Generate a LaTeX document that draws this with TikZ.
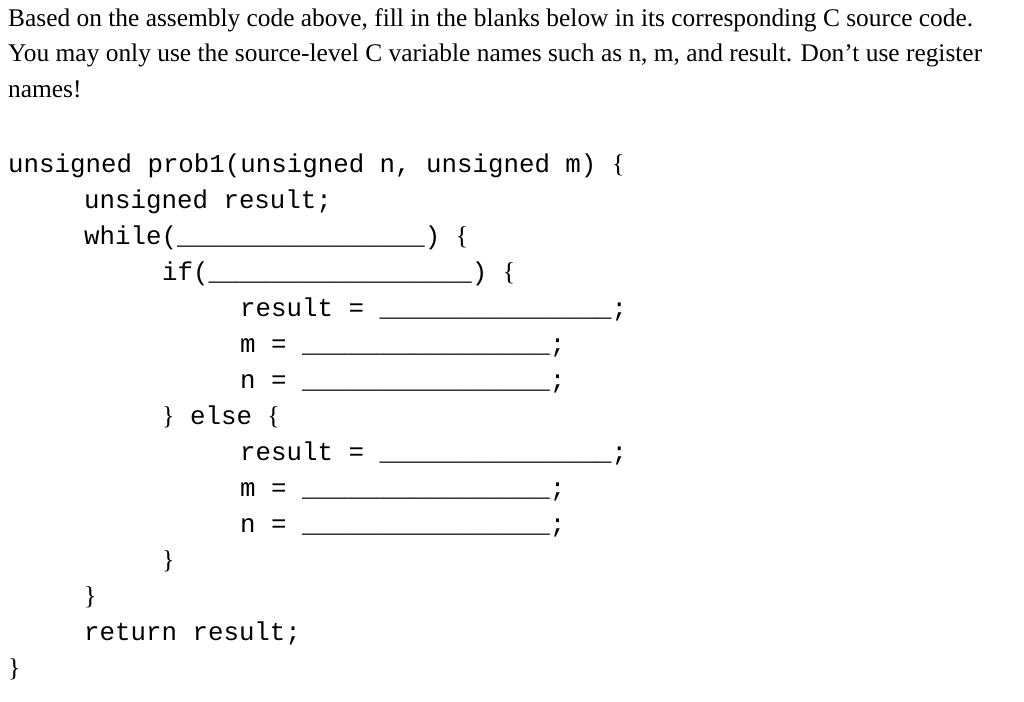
\documentclass[tikz,border=0pt]{standalone}
\usepackage{fontspec}
\setmainfont{Liberation Serif}
\setmonofont{Liberation Mono}
\begin{document}
\begin{tikzpicture}[x=1pt,y=-1pt,
  prose/.style={anchor=base west,inner sep=0pt,font=\fontsize{25.4}{30}\selectfont},
  code/.style={anchor=base west,inner sep=0pt,font=\fontsize{25.8}{30}\selectfont\ttfamily}]
\useasboundingbox[fill=white] (0,0) rectangle (1024,701);
\newcommand{\ob}{{\rmfamily\{}}
\newcommand{\cb}{{\rmfamily\}}}
\node[prose] (t1) at (8,27) {Based on the assembly code above, fill in the blanks below in its corresponding C source code.};
\node[prose] (t2) at (8,62) {You may only use the source-level C variable names such as n, m, and result. Don’t use register};
\node[prose] (t3) at (8,97) {names!};
\node[code] (c1) at (8,172) {unsigned prob1(unsigned n, unsigned m) \ob};
\node[code] (c2) at (84,208) {unsigned result;};
\node[code] (c3) at (84,244) {while(\_\_\_\_\_\_\_\_\_\_\_\_\_\_\_\_) \ob};
\node[code] (c4) at (162,280) {if(\_\_\_\_\_\_\_\_\_\_\_\_\_\_\_\_\_) \ob};
\node[code] (c5) at (240,316) {result = \_\_\_\_\_\_\_\_\_\_\_\_\_\_\_;};
\node[code] (c6) at (240,352) {m = \_\_\_\_\_\_\_\_\_\_\_\_\_\_\_\_;};
\node[code] (c7) at (240,388) {n = \_\_\_\_\_\_\_\_\_\_\_\_\_\_\_\_;};
\node[code] (c8) at (162,424) {\cb{} else \ob};
\node[code] (c9) at (240,460) {result = \_\_\_\_\_\_\_\_\_\_\_\_\_\_\_;};
\node[code] (c10) at (240,496) {m = \_\_\_\_\_\_\_\_\_\_\_\_\_\_\_\_;};
\node[code] (c11) at (240,532) {n = \_\_\_\_\_\_\_\_\_\_\_\_\_\_\_\_;};
\node[code] (c12) at (162,568) {\cb};
\node[code] (c13) at (84,604) {\cb};
\node[code] (c14) at (84,640) {return result;};
\node[code] (c15) at (8,676) {\cb};
\end{tikzpicture}
\end{document}
